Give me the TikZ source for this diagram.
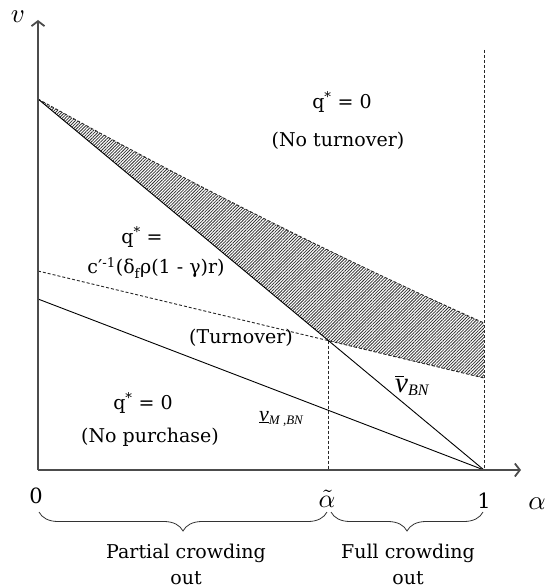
\documentclass[tikz,border=0pt]{standalone}
\usepackage{graphicx}
\usepackage{fontspec}
\setmainfont{DejaVu Serif}
\newfontfamily\tim{Liberation Serif}
\usetikzlibrary{arrows.meta,patterns.meta,decorations.pathreplacing,calc}
\begin{document}
\begin{tikzpicture}[x=1pt,y=-1pt,
  axis/.style={line width=1.2pt,black!70,-{Straight Barb[length=5pt,width=13pt,line width=1.8pt]}},
  solidline/.style={line width=0.9pt,black},
  dashline/.style={line width=0.9pt,black!85,dash pattern=on 3pt off 2pt},
  hatch/.style={pattern={Lines[angle=45,distance=2.2pt,line width=0.8pt]},pattern color=black!80},
  lbl/.style={font=\fontsize{19}{22}\selectfont,inner sep=0pt,align=center},
  numlbl/.style={font=\fontsize{21}{24}\selectfont,inner sep=0pt},
  mathlbl/.style={inner sep=0pt},
  bracestyle/.style={decorate,decoration={brace,mirror,amplitude=19pt},line width=0.8pt,black!80}
]
\useasboundingbox (0,0) rectangle (547,588);
% key points
\coordinate (O) at (38,470);
\coordinate (ytip) at (38,20);
\coordinate (xtip) at (521,470);
\coordinate (A) at (38,99);
\coordinate (One) at (484,470);
\coordinate (OneTop) at (484,50);
\coordinate (B) at (484,323);
\coordinate (D0) at (38,271);
\coordinate (D1) at (484,378);
\coordinate (M0) at (38,299);
\coordinate (P) at (intersection of A--One and D0--D1);
\coordinate (Pbot) at (P |- O);
% hatched region
\fill[hatch] (A) .. controls (186.7,181.7) and (335.3,256.3) .. (B) -- (D1) -- (P) -- cycle;
% curves
\draw[dashline] (A) .. controls (186.7,181.7) and (335.3,256.3) .. (B);
\draw[dashline] (D0) -- (D1);
\draw[dashline] (OneTop) -- (One);
\draw[dashline] (P) -- (Pbot);
\draw[solidline] (A) -- (One);
\draw[solidline] (M0) -- (One);
% axes
\draw[axis] (O) -- (ytip);
\draw[axis] (O) -- (xtip);
% axis labels
\node[mathlbl] (vlab) at (18,17) {\scalebox{2.7}{$v$}};
\node[mathlbl] (alab) at (537,504) {\scalebox{2.7}{$\alpha$}};
\node[numlbl] (zero) at (36,496) {0};
\node[mathlbl] (atil) at (327,499) {\scalebox{2.6}{$\tilde{\alpha}$}};
\node[numlbl] (one) at (484,501) {1};
% region labels
\node[lbl] (q1) at (342,102) {q\textsuperscript{*} = 0};
\node[lbl] (q1b) at (338,141) {(No turnover)};
\node[lbl] (q2) at (142,237) {q\textsuperscript{*} =};
\node[lbl] (q2b) at (156,268) {c′\textsuperscript{-1}(δ\textsubscript{f}ρ(1 - γ)r)};
\node[lbl] (turn) at (241,338) {(Turnover)};
\node[lbl] (q3) at (143,403) {q\textsuperscript{*} = 0};
\node[lbl] (q3b) at (150,437) {(No purchase)};
% line labels
\node[inner sep=0pt,anchor=base west] (vm) at (259,421) {\tim\itshape\fontsize{22}{24}\selectfont\underline{v}\raisebox{-3pt}{\fontsize{13}{13}\selectfont M ,BN}};
\node[inner sep=0pt,anchor=base west] (vbn) at (395,392) {\tim\itshape\fontsize{29}{31}\selectfont\rlap{\raisebox{15pt}{\rule{9pt}{0.9pt}}}v\raisebox{-3pt}{\fontsize{16}{16}\selectfont BN}};
% braces
\draw[bracestyle] (39,512) -- (327,512);
\draw[bracestyle] (331,512) -- (483,512);
\node[lbl] (pc1) at (186,553) {Partial crowding};
\node[lbl] (pc2) at (186,578) {out};
\node[lbl] (fc1) at (408,553) {Full crowding};
\node[lbl] (fc2) at (408,578) {out};
\end{tikzpicture}
\end{document}
